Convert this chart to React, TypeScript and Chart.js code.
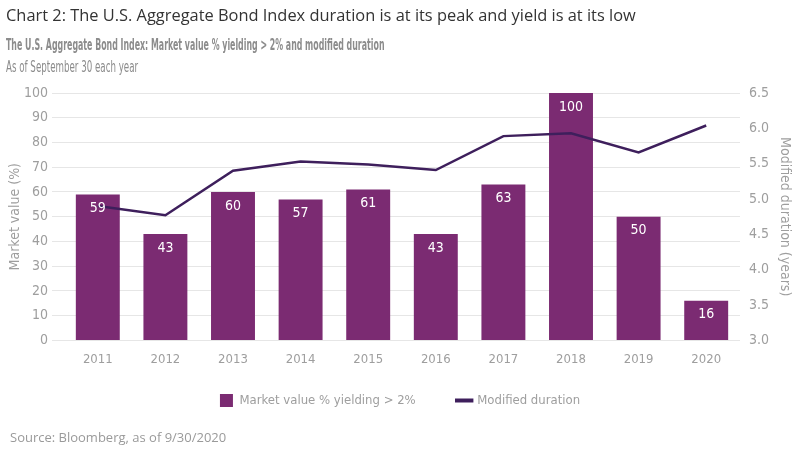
import React, { useEffect, useRef } from "react";
import { Chart, registerables } from "chart.js";

Chart.register(...registerables);

const years = ["2011", "2012", "2013", "2014", "2015", "2016", "2017", "2018", "2019", "2020"];
const marketValuePct = [59, 43, 60, 57, 61, 43, 63, 100, 50, 16];
const modifiedDuration = [4.9, 4.77, 5.4, 5.53, 5.49, 5.41, 5.89, 5.93, 5.66, 6.04];

const BAR_COLOR = "#7b2b72";
const LINE_COLOR = "#3e1f5c";
const GREY = "#9e9e9e";
const COND = "'DejaVu Sans Condensed', sans-serif";
const SANS = "'Open Sans', 'Noto Sans', sans-serif";

const barLabels = {
  id: "barLabels",
  afterDatasetsDraw(chart: any) {
    const ctx = chart.ctx;
    const meta = chart.getDatasetMeta(0);
    ctx.save();
    ctx.fillStyle = "#ffffff";
    ctx.font = "14px " + COND;
    ctx.textAlign = "center";
    ctx.textBaseline = "middle";
    meta.data.forEach((el: any, i: number) => {
      ctx.fillText(String(marketValuePct[i]), el.x, el.y + 14);
    });
    ctx.restore();
  },
};

export default function App() {
  const ref = useRef<HTMLCanvasElement | null>(null);
  useEffect(() => {
    if (!ref.current) return;
    const chart = new Chart(ref.current, {
      type: "bar",
      data: {
        labels: years,
        datasets: [
          {
            type: "bar",
            label: "Market value % yielding > 2%",
            data: marketValuePct,
            backgroundColor: BAR_COLOR,
            yAxisID: "y",
            categoryPercentage: 0.65,
            barPercentage: 1,
            order: 2,
            pointStyle: "rect",
          } as any,
          {
            type: "line",
            label: "Modified duration",
            data: modifiedDuration,
            borderColor: LINE_COLOR,
            backgroundColor: LINE_COLOR,
            borderWidth: 2.5,
            pointRadius: 0,
            yAxisID: "y1",
            order: 1,
            pointStyle: "line",
            tension: 0,
          } as any,
        ],
      },
      options: {
        animation: false,
        responsive: true,
        maintainAspectRatio: false,
        layout: { padding: { top: 93, bottom: 35, left: 0, right: 0 } },
        plugins: {
          legend: {
            position: "bottom",
            labels: {
              usePointStyle: true,
              boxWidth: 14,
              boxHeight: 14,
              padding: 16,
              color: GREY,
              font: { family: COND, size: 13 },
              sort: (a: any, b: any) => a.datasetIndex - b.datasetIndex,
              generateLabels: (chart: any) => {
                const items = Chart.defaults.plugins.legend.labels.generateLabels(chart);
                items.forEach((it: any) => {
                  if (it.datasetIndex === 0) it.text = it.text + "       ";
                  if (it.datasetIndex === 1) it.lineWidth = 4;
                });
                return items;
              },
            },
          },
          tooltip: { enabled: false },
        },
        scales: {
          x: {
            grid: { display: false, drawTicks: false },
            border: { display: false },
            ticks: { color: GREY, font: { family: COND, size: 13 }, padding: 11 },
          },
          y: {
            position: "left",
            min: 0,
            max: 100,
            ticks: { stepSize: 10, color: GREY, font: { family: COND, size: 14 }, padding: 4 },
            grid: { color: "#e6e6e6", tickLength: 12, tickColor: "#e6e6e6" },
            border: { display: false },
            title: { display: true, text: "Market value (%)", color: GREY, font: { family: COND, size: 14 }, padding: { top: 7, bottom: 0 } },
            afterFit: (s: any) => { s.width = 64; },
          },
          y1: {
            position: "right",
            min: 3,
            max: 6.5,
            ticks: {
              stepSize: 0.5,
              color: GREY,
              font: { family: COND, size: 14 },
              padding: 3,
              callback: (v: any) => Number(v).toFixed(1),
            },
            grid: { display: false, drawTicks: true, tickLength: 6, tickColor: "#e6e6e6" },
            border: { display: false },
            title: { display: true, text: "Modified duration (years)", color: GREY, font: { family: COND, size: 14 }, padding: { top: 7, bottom: 0 } },
            afterFit: (s: any) => { s.width = 60; },
          },
        },
      },
      plugins: [barLabels],
    });
    return () => chart.destroy();
  }, []);

  return (
    <div style={{ position: "absolute", left: 0, top: 0, width: 800, height: 452, background: "#fff", overflow: "hidden" }}>
      <canvas ref={ref} style={{ position: "absolute", left: 0, top: 0 }} />
      <div style={{ position: "absolute", left: 6, top: 3, fontFamily: SANS, fontSize: 16.4, color: "#333", whiteSpace: "nowrap" }}>
        Chart 2: The U.S. Aggregate Bond Index duration is at its peak and yield is at its low
      </div>
      <div style={{ position: "absolute", left: 6, top: 36, fontFamily: COND, fontWeight: "bold", fontSize: 15, color: "#8c8c8c", whiteSpace: "nowrap", transform: "scaleX(0.583)", transformOrigin: "0 0" }}>
        The U.S. Aggregate Bond Index: Market value % yielding &gt; 2% and modified duration
      </div>
      <div style={{ position: "absolute", left: 6, top: 58, fontFamily: COND, fontSize: 15, color: "#8c8c8c", whiteSpace: "nowrap", transform: "scaleX(0.644)", transformOrigin: "0 0" }}>
        As of September 30 each year
      </div>
      <div style={{ position: "absolute", left: 10, top: 428, fontFamily: SANS, fontSize: 13, color: "#9a9a9a", whiteSpace: "nowrap" }}>
        Source: Bloomberg, as of 9/30/2020
      </div>
    </div>
  );
}
